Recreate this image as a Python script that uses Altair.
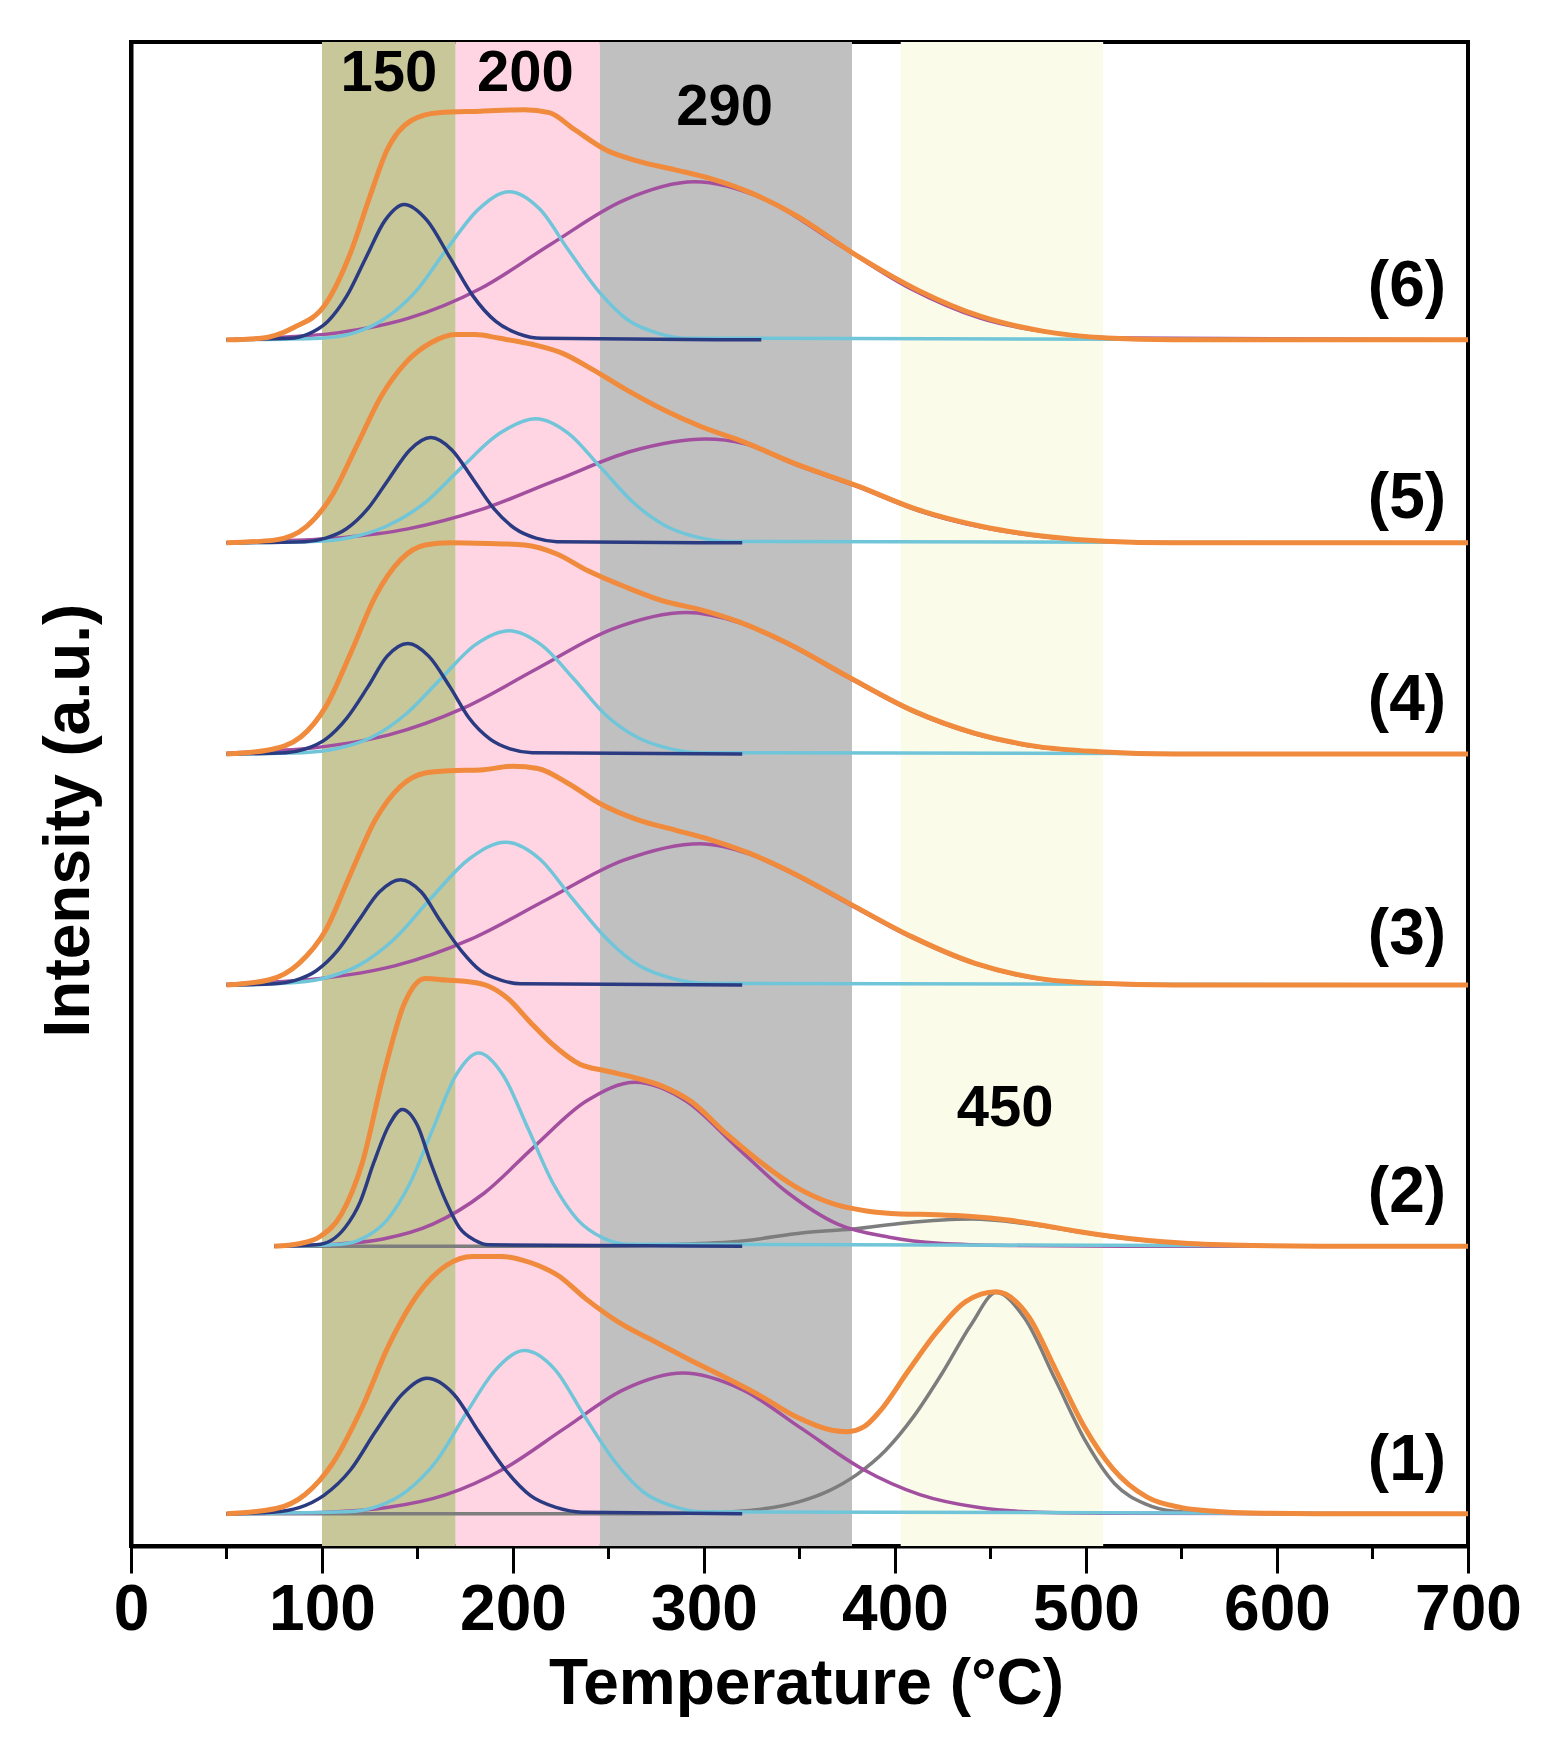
import pandas as pd
import altair as alt

# ---- data (x in deg C, y = intensity above the trace baseline, a.u.)
OFFSETS = [2.15, 19.93, 37.3, 52.66, 66.7, 80.2]

T1_NAVY_X = [50, 74, 88, 101, 115, 128, 142, 155, 169, 182, 196, 209, 223, 236, 320]
T1_NAVY_Y = [0, 0.10, 0.40, 1.22, 2.92, 5.46, 7.94, 9.0, 7.94, 5.46, 2.92, 1.22, 0.40, 0.10, 0]
T1_CYAN_X = [50, 113, 129, 144, 160, 175, 191, 206, 222, 237, 253, 268, 284, 299, 700]
T1_CYAN_Y = [0, 0.12, 0.48, 1.47, 3.52, 6.58, 9.58, 10.85, 9.58, 6.58, 3.52, 1.47, 0.48, 0.12, 0]
T1_PURPLE_X = [50, 72, 103, 134, 165, 196, 227, 258, 289, 320, 351, 382, 413, 444, 475, 520, 700]
T1_PURPLE_Y = [0, 0.02, 0.10, 0.41, 1.27, 3.04, 5.67, 8.25, 9.35, 8.25, 5.67, 3.04, 1.27, 0.41, 0.10, 0.02, 0]
T1_GRAY_X = [50, 270, 300, 330, 350, 365, 380, 395, 410, 425, 440, 453, 468, 484, 500, 515, 531, 546, 570, 600, 700]
T1_GRAY_Y = [0, 0, 0.05, 0.3, 0.8, 1.5, 2.6, 4.2, 6.5, 9.4, 12.6, 14.7, 12.97, 8.9, 4.77, 1.99, 0.65, 0.16, 0.02, 0, 0]
T1_ORANGE_X = [50, 76, 91, 106, 121, 135, 150, 165, 179, 194, 209, 224, 238, 257, 275, 293, 312, 330, 348,
               367, 375, 384, 392, 407, 422, 437, 453, 470, 484, 499, 514, 532, 550, 569, 587, 620, 700]
T1_ORANGE_Y = [0, 0.34, 1.26, 3.43, 7.06, 11.2, 14.55, 16.5, 17.1, 17.1, 16.7, 15.8, 14.3, 12.6, 11.4, 10.2, 9.0, 7.8, 6.46,
               5.55, 5.45, 5.8, 6.8, 9.5, 12.1, 14.1, 14.75, 13.1, 9.6, 5.8, 3.0, 1.1, 0.4, 0.15, 0.05, 0, 0]

T2_NAVY_X = [75, 97, 105, 112, 120, 127, 135, 142, 150, 157, 165, 172, 180, 187, 320]
T2_NAVY_Y = [0, 0.10, 0.40, 1.23, 2.95, 5.52, 8.03, 9.1, 8.03, 5.52, 2.95, 1.23, 0.40, 0.10, 0]
T2_CYAN_X = [75, 110, 122, 134, 146, 158, 170, 182, 195, 208, 221, 234, 247, 260, 700]
T2_CYAN_Y = [0, 0.14, 0.56, 1.74, 4.17, 7.79, 11.34, 12.85, 11.34, 7.79, 4.17, 1.74, 0.56, 0.14, 0]
T2_PURPLE_X = [75, 105, 132, 158, 185, 211, 238, 264, 291, 317, 344, 370, 397, 423, 460, 520, 700]
T2_PURPLE_Y = [0, 0.12, 0.48, 1.47, 3.54, 6.61, 9.62, 10.9, 9.62, 6.61, 3.54, 1.47, 0.6, 0.2, 0.05, 0, 0]
T2_GRAY_X = [75, 240, 280, 320, 352, 378, 405, 440, 477, 495, 514, 550, 587, 630, 700]
T2_GRAY_Y = [0, 0, 0.1, 0.35, 0.9, 1.14, 1.55, 1.81, 1.35, 0.98, 0.62, 0.2, 0.05, 0, 0]
T2_ORANGE_X = [75, 88, 99, 110, 121, 132, 143, 154, 165, 176, 187, 198, 209, 220, 235, 249, 264, 279, 293,
               312, 330, 348, 367, 385, 403, 422, 440, 459, 477, 495, 514, 550, 587, 630, 700]
T2_ORANGE_Y = [0, 0.17, 0.65, 2.1, 5.5, 11.3, 16.1, 17.8, 17.7, 17.6, 17.3, 16.4, 14.9, 13.5, 12.1, 11.65, 11.2, 10.6, 9.65,
               7.45, 5.55, 3.95, 2.85, 2.35, 2.15, 2.1, 1.98, 1.74, 1.4, 1.0, 0.65, 0.22, 0.05, 0, 0]

T3_NAVY_X = [50, 75, 86, 97, 108, 119, 130, 141, 152, 162, 173, 183, 194, 204, 320]
T3_NAVY_Y = [0, 0.08, 0.31, 0.95, 2.27, 4.25, 6.18, 7.0, 6.18, 4.25, 2.27, 0.95, 0.31, 0.08, 0]
T3_CYAN_X = [50, 80, 100, 119, 138, 157, 177, 196, 214, 231, 249, 266, 284, 302, 700]
T3_CYAN_Y = [0, 0.11, 0.42, 1.29, 3.08, 5.76, 8.38, 9.5, 8.38, 5.76, 3.08, 1.29, 0.42, 0.11, 0]
T3_PURPLE_X = [50, 58, 98, 138, 178, 218, 258, 298, 324, 347, 376, 409, 442, 475, 507, 545, 700]
T3_PURPLE_Y = [0.05, 0.1, 0.41, 1.27, 3.05, 5.70, 8.30, 9.4, 8.7, 7.37, 5.38, 3.15, 1.4, 0.41, 0.09, 0, 0]
T3_ORANGE_X = [50, 72, 88, 102, 115, 128, 141, 154, 167, 183, 200, 213, 229, 245, 265, 285, 304, 324, 347,
               376, 409, 442, 475, 507, 546, 700]
T3_ORANGE_Y = [0, 0.33, 1.44, 3.66, 7.4, 11.0, 13.2, 14.1, 14.25, 14.3, 14.55, 14.4, 13.4, 12.1, 11.0, 10.3, 9.64, 8.75, 7.42,
               5.43, 3.2, 1.44, 0.44, 0.11, 0, 0]

T4_NAVY_X = [50, 81, 91, 102, 113, 124, 134, 145, 156, 167, 177, 188, 199, 210, 320]
T4_NAVY_Y = [0, 0.08, 0.32, 0.99, 2.39, 4.46, 6.49, 7.35, 6.49, 4.46, 2.39, 0.99, 0.32, 0.08, 0]
T4_CYAN_X = [50, 90, 108, 126, 144, 162, 180, 198, 215, 232, 248, 265, 282, 299, 700]
T4_CYAN_Y = [0, 0.09, 0.36, 1.11, 2.66, 4.97, 7.24, 8.2, 7.24, 4.97, 2.66, 1.11, 0.36, 0.09, 0]
T4_PURPLE_X = [50, 57, 96, 135, 174, 213, 252, 291, 318, 344, 376, 409, 442, 475, 507, 545, 700]
T4_PURPLE_Y = [0.05, 0.1, 0.41, 1.27, 3.05, 5.70, 8.30, 9.4, 8.75, 7.3, 5.05, 2.85, 1.33, 0.46, 0.13, 0, 0]
T4_ORANGE_X = [50, 72, 89, 102, 115, 128, 141, 154, 167, 187, 206, 223, 239, 259, 278, 298, 318, 344,
               376, 409, 442, 475, 507, 546, 700]
T4_ORANGE_Y = [0, 0.27, 1.15, 3.15, 6.7, 10.5, 12.9, 13.9, 14.05, 14.0, 13.9, 13.3, 12.2, 11.1, 10.2, 9.6, 8.8, 7.35,
               5.1, 2.9, 1.37, 0.49, 0.15, 0, 0]

T5_NAVY_X = [50, 91, 102, 113, 124, 135, 146, 157, 168, 179, 190, 201, 212, 223, 320]
T5_NAVY_Y = [0, 0.08, 0.31, 0.95, 2.27, 4.25, 6.18, 7.0, 6.18, 4.25, 2.27, 0.95, 0.31, 0.08, 0]
T5_CYAN_X = [50, 95, 115, 134, 154, 173, 193, 212, 229, 246, 263, 280, 297, 314, 700]
T5_CYAN_Y = [0, 0.09, 0.36, 1.12, 2.68, 5.0, 7.28, 8.25, 7.28, 5.0, 2.68, 1.12, 0.36, 0.09, 0]
T5_PURPLE_X = [50, 67, 106, 145, 184, 223, 262, 301, 321, 347, 380, 412, 445, 478, 510, 545, 700]
T5_PURPLE_Y = [0, 0.08, 0.30, 0.93, 2.24, 4.18, 6.09, 6.9, 6.6, 5.25, 3.75, 2.15, 1.05, 0.4, 0.1, 0, 0]
T5_ORANGE_X = [50, 75, 92, 105, 118, 131, 144, 157, 170, 180, 193, 210, 226, 242, 259, 278, 298, 321,
               347, 380, 412, 445, 478, 510, 545, 700]
T5_ORANGE_Y = [0, 0.18, 1.1, 3.1, 6.4, 9.75, 12.0, 13.3, 13.85, 13.85, 13.6, 13.2, 12.6, 11.5, 10.2, 8.9, 7.75, 6.7,
               5.3, 3.8, 2.2, 1.1, 0.44, 0.1, 0, 0]

T6_NAVY_X = [50, 83, 93, 103, 113, 123, 133, 143, 155, 167, 179, 191, 203, 215, 330]
T6_NAVY_Y = [0, 0.10, 0.40, 1.22, 2.92, 5.46, 7.94, 9.0, 7.94, 5.46, 2.92, 1.22, 0.40, 0.10, 0]
T6_CYAN_X = [50, 99, 116, 132, 149, 165, 182, 198, 214, 229, 245, 260, 276, 291, 700]
T6_CYAN_Y = [0, 0.11, 0.43, 1.33, 3.20, 5.97, 8.69, 9.85, 8.69, 5.97, 3.20, 1.33, 0.43, 0.11, 0]
T6_PURPLE_X = [50, 70, 108, 145, 183, 220, 258, 295, 333, 370, 408, 445, 483, 520, 700]
T6_PURPLE_Y = [0, 0.12, 0.46, 1.42, 3.41, 6.37, 9.27, 10.5, 9.27, 6.37, 3.41, 1.42, 0.46, 0.12, 0]
T6_ORANGE_X = [50, 68, 85, 102, 115, 125, 134, 147, 161, 183, 206, 219, 232, 249, 265, 285, 304, 324,
               347, 380, 412, 445, 478, 511, 545, 700]
T6_ORANGE_Y = [0, 0.1, 0.8, 2.4, 5.8, 9.5, 12.6, 14.6, 15.1, 15.2, 15.3, 15.1, 14.0, 12.6, 11.9, 11.3, 10.7, 9.8,
               8.35, 5.6, 3.3, 1.55, 0.56, 0.12, 0, 0]

# shaded temperature regions
BAND_START = [100, 170, 245.5, 403]
BAND_END = [170, 245.5, 377.5, 509]
BAND_FILL = ['#c8c799', '#ffd5e4', '#c0c0c0', '#fafbe8']

BAND_LABELS = ['150', '200', '290', '450']
BAND_LABEL_X = [135, 206.5, 310.8, 457.6]
BAND_LABEL_Y = [97.9, 97.9, 95.6, 29.05]

TRACE_LABELS = ['(1)', '(2)', '(3)', '(4)', '(5)', '(6)']
TRACE_LABEL_X = [688.5] * 6
TRACE_LABEL_Y = [5.65, 23.5, 40.6, 56.2, 69.6, 83.7]

MAJOR_TICKS = [0, 100, 200, 300, 400, 500, 600, 700]
MINOR_TICKS = [50, 150, 250, 350, 450, 550, 650]

COLORS = {'gray': '#7d7d7d', 'purple': '#a24f9f', 'cyan': '#71c5d9',
          'navy': '#2a3b82', 'orange': '#f08a3c'}

FONT = 'Liberation Sans'
W, H = 1337, 1504

traces = [
    {'navy': (T1_NAVY_X, T1_NAVY_Y), 'cyan': (T1_CYAN_X, T1_CYAN_Y), 'purple': (T1_PURPLE_X, T1_PURPLE_Y),
     'gray': (T1_GRAY_X, T1_GRAY_Y), 'orange': (T1_ORANGE_X, T1_ORANGE_Y)},
    {'navy': (T2_NAVY_X, T2_NAVY_Y), 'cyan': (T2_CYAN_X, T2_CYAN_Y), 'purple': (T2_PURPLE_X, T2_PURPLE_Y),
     'gray': (T2_GRAY_X, T2_GRAY_Y), 'orange': (T2_ORANGE_X, T2_ORANGE_Y)},
    {'navy': (T3_NAVY_X, T3_NAVY_Y), 'cyan': (T3_CYAN_X, T3_CYAN_Y), 'purple': (T3_PURPLE_X, T3_PURPLE_Y),
     'orange': (T3_ORANGE_X, T3_ORANGE_Y)},
    {'navy': (T4_NAVY_X, T4_NAVY_Y), 'cyan': (T4_CYAN_X, T4_CYAN_Y), 'purple': (T4_PURPLE_X, T4_PURPLE_Y),
     'orange': (T4_ORANGE_X, T4_ORANGE_Y)},
    {'navy': (T5_NAVY_X, T5_NAVY_Y), 'cyan': (T5_CYAN_X, T5_CYAN_Y), 'purple': (T5_PURPLE_X, T5_PURPLE_Y),
     'orange': (T5_ORANGE_X, T5_ORANGE_Y)},
    {'navy': (T6_NAVY_X, T6_NAVY_Y), 'cyan': (T6_CYAN_X, T6_CYAN_Y), 'purple': (T6_PURPLE_X, T6_PURPLE_Y),
     'orange': (T6_ORANGE_X, T6_ORANGE_Y)},
]

rows = []
for i, (offset, parts) in enumerate(zip(OFFSETS, traces)):
    for comp, (xs, ys) in parts.items():
        for x, y in zip(xs, ys):
            rows.append({'trace': i + 1, 'comp': comp, 'series': f'{i + 1}-{comp}', 'x': x, 'y': y + offset})
df = pd.DataFrame(rows)

bands = pd.DataFrame({'x': BAND_START, 'end': BAND_END, 'fill': BAND_FILL})
band_text = pd.DataFrame({'label': BAND_LABELS, 'x': BAND_LABEL_X, 'y': BAND_LABEL_Y})
trace_text = pd.DataFrame({'label': TRACE_LABELS, 'x': TRACE_LABEL_X, 'y': TRACE_LABEL_Y})
minor = pd.DataFrame({'x': MINOR_TICKS})

x_scale = alt.Scale(domain=[0, 700], nice=False)
y_scale = alt.Scale(domain=[0, 100], nice=False)

# same axis objects on every layer so that the layer merge keeps them
x_axis = alt.Axis(values=MAJOR_TICKS, tickSize=27, tickWidth=3, tickColor='black',
                  domainColor='black', domainWidth=4, grid=False,
                  labelFont=FONT, labelFontSize=64, labelFontWeight='bold', labelColor='black',
                  labelPadding=5, labelFlush=False, labelOverlap=False,
                  title='Temperature (°C)', titleFont=FONT, titleFontSize=64, titleFontWeight='bold',
                  titleColor='black', titleBaseline='alphabetic', titleY=157, titleX=675)
y_axis = alt.Axis(ticks=False, labels=False, grid=False, domainColor='black', domainWidth=4,
                  title='Intensity (a.u.)', titleFont=FONT, titleFontSize=64, titleFontWeight='bold',
                  titleColor='black', titleAngle=270, titleBaseline='alphabetic', titleAlign='center',
                  titleX=-43, titleY=778)

X = alt.X('x:Q', scale=x_scale, axis=x_axis, title='Temperature (°C)')
Y = alt.Y('y:Q', scale=y_scale, axis=y_axis, title='Intensity (a.u.)')

band_layer = alt.Chart(bands).mark_rect().encode(
    x=X,
    x2='end:Q',
    fill=alt.Fill('fill:N', scale=None),
)

minor_layer = alt.Chart(minor).mark_rule(color='black', strokeWidth=3).encode(
    x=X,
    y=alt.value(H),
    y2=alt.value(H + 13),
)


def curve(comp, width):
    return alt.Chart(df[df['comp'] == comp]).mark_line(
        color=COLORS[comp], strokeWidth=width, interpolate='monotone'
    ).encode(x=X, y=Y, detail='series:N')


band_labels = alt.Chart(band_text).mark_text(
    font=FONT, fontSize=58, fontWeight='bold', color='black', baseline='middle', align='center'
).encode(x=X, y=Y, text='label:N')

trace_labels = alt.Chart(trace_text).mark_text(
    font=FONT, fontSize=64, fontWeight='bold', color='black', baseline='middle', align='right'
).encode(x=X, y=Y, text='label:N')

chart = alt.layer(
    band_layer,
    minor_layer,
    curve('gray', 3.5),
    curve('purple', 3.5),
    curve('cyan', 3.5),
    curve('navy', 3.5),
    curve('orange', 5),
    band_labels,
    trace_labels,
).properties(
    width=W,
    height=H,
    autosize=alt.AutoSizeParams(type='none'),
    padding={'left': 123, 'top': 34, 'right': 80, 'bottom': 200},
).configure_view(
    stroke='black',
    strokeWidth=4,
)

chart.save('out.html', embed_options={'renderer': 'svg', 'actions': False})
